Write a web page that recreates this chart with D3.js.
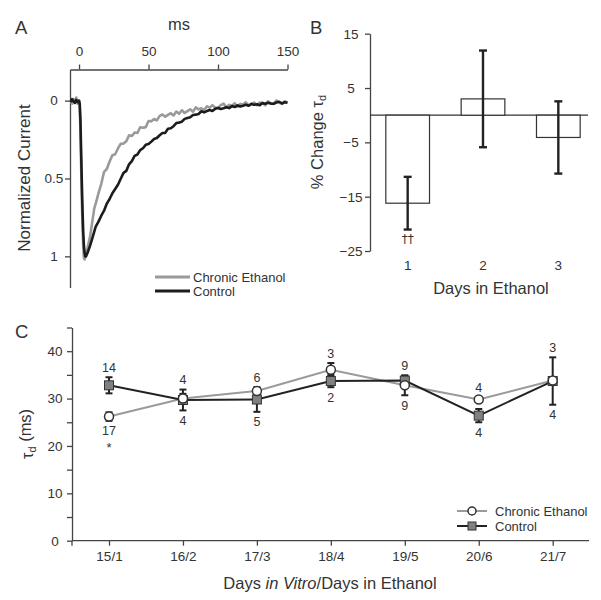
<!DOCTYPE html>
<html><head><meta charset="utf-8">
<script src="https://cdn.jsdelivr.net/npm/d3@7"></script>
<style>
body{margin:0;background:#fff}
svg{display:block}
text{font-family:"Liberation Sans",Arial,Helvetica,sans-serif;fill:#333}
</style>
</head><body>
<svg id="chart" width="601" height="600"></svg>
<script>
// ---------- Panel A data: normalized current traces ----------
const traceTime = [-6,-5,-4,-3,-2,-1,0,0.5,1,1.5,2,2.5,3,3.5,4,4.5,5,5.5,6,7,8,9,10,11,
12,14,16,18,20,22,24,26,28,30,32,34,36,38,40,42,44,46,48,50,52,54,56,58,60,62,64,66,68,70,72,74,76,78,80,82,84,86,88,90,92,94,96,98,100,102,104,106,108,110,112,114,116,118,120,122,124,126,128,130,132,134,136,138,140,142,144,146,148,150];
const traceEthanol = [0.00,0.02,-0.01,0.01,-0.02,0.02,0.00,0.04,0.20,0.42,0.63,0.80,0.93,1.01,1.02,1.00,0.98,0.96,0.95,0.91,0.87,0.81,0.75,0.69,
0.662,0.594,0.534,0.457,0.439,0.391,0.350,0.344,0.307,0.277,0.276,0.261,0.223,0.227,0.205,0.208,0.171,0.174,0.170,0.131,0.133,0.118,0.127,0.098,0.089,0.103,0.091,0.081,0.095,0.070,0.084,0.062,0.079,0.067,0.056,0.071,0.043,0.056,0.049,0.061,0.036,0.045,0.029,0.045,0.046,0.029,0.019,0.042,0.027,0.034,0.017,0.039,0.021,0.025,0.011,0.031,0.026,0.012,0.030,0.012,0.014,0.030,0.004,0.018,0.021,-0.001,0.014,0.021,0.004,0.013];
const traceControl = [0.01,-0.01,0.005,0.015,-0.005,0.01,0.0,0.02,0.12,0.32,0.52,0.70,0.84,0.93,0.98,1.00,1.00,0.99,0.98,0.955,0.93,0.90,0.87,0.84,
0.809,0.777,0.739,0.707,0.661,0.632,0.595,0.568,0.540,0.502,0.464,0.451,0.409,0.388,0.355,0.346,0.318,0.306,0.284,0.279,0.263,0.246,0.240,0.222,0.208,0.207,0.180,0.177,0.164,0.144,0.141,0.135,0.117,0.111,0.106,0.092,0.090,0.086,0.068,0.075,0.067,0.060,0.066,0.052,0.047,0.054,0.049,0.043,0.048,0.035,0.041,0.030,0.038,0.033,0.027,0.033,0.020,0.027,0.023,0.029,0.016,0.020,0.013,0.019,0.020,0.012,0.007,0.018,0.010,0.013];
const traceTicksX = [0,50,100,150];
const traceTicksY = [0,0.5,1];
const traceTickLabelsY = ["0","0.5","1"];
const traceSeries = ["Chronic Ethanol","Control"];

// ---------- Panel B data ----------
const bDays = ["1","2","3"];
const bChange = [-16.2,3.0,-4.1];
const bSEM = [4.85,8.9,6.65];
const bMarks = ["\u2020\u2020","",""];
const bTicks = [15,5,-5,-15,-25];

// ---------- Panel C data ----------
const cDays = ["15/1","16/2","17/3","18/4","19/5","20/6","21/7"];
const cEthanolMean = [26.2,30.0,31.6,36.1,32.8,29.8,33.8];
const cEthanolSEM  = [0.9,1.0,0.6,1.4,2.1,0.5,0.5];
const cEthanolN    = [17,4,6,3,9,4,3];
const cControlMean = [32.8,29.7,29.8,33.7,33.8,26.4,33.7];
const cControlSEM  = [1.7,2.2,2.6,1.3,1.0,1.4,5.0];
const cControlN    = [14,4,5,2,9,4,4];
const cSig         = ["*","","","","","",""];
const cTicks = [0,5,10,15,20,25,30,35,40,45];
const cSeries = ["Chronic Ethanol","Control"];

const svg = d3.select("#chart");
const TICK_FS = "13.5px", TITLE_FS = "16.5px";
const axisColor = "#444";

function styleAxis(g){
  g.select(".domain").attr("stroke",axisColor).attr("stroke-width",1.3);
  g.selectAll(".tick line").attr("stroke",axisColor).attr("stroke-width",1.3);
  g.selectAll(".tick text").attr("fill","#333").style("font-size",TICK_FS)
    .style("font-family",'"Liberation Sans",Arial,sans-serif');
}

// ================= Panel A =================
const xA = d3.scaleLinear().domain([-6.5,150]).range([70,287.5]);
const yA = d3.scaleLinear().domain([-0.2,1.2]).range([69.5,287.5]);

svg.append("g").attr("transform","translate(0,69.5)")
  .call(d3.axisTop(xA).tickValues(traceTicksX).tickSize(5).tickSizeOuter(0).tickPadding(9))
  .call(styleAxis);
const gAy = svg.append("g").attr("transform","translate(70,0)")
  .call(d3.axisLeft(yA).tickValues(traceTicksY).tickFormat((d,i)=>traceTickLabelsY[i]).tickSize(5).tickSizeOuter(0))
  .call(styleAxis);
gAy.selectAll(".tick text").attr("text-anchor","middle").attr("x",-16);

svg.append("text").attr("x",179).attr("y",30).attr("text-anchor","middle").style("font-size",TITLE_FS).text("ms");
svg.append("text").attr("transform","translate(30,178) rotate(-90)").attr("text-anchor","middle").style("font-size","17px").text("Normalized Current");
svg.append("text").attr("x",15).attr("y",34).style("font-size","18.5px").text("A");

const lineA = d3.line().x((d,i)=>xA(traceTime[i])).y(d=>yA(d));
svg.append("path").datum(traceEthanol).attr("d",lineA).attr("fill","none")
  .attr("stroke","#9a9a9a").attr("stroke-width",2.6).attr("stroke-linejoin","round");
svg.append("path").datum(traceControl).attr("d",lineA).attr("fill","none")
  .attr("stroke","#1c1c1c").attr("stroke-width",2.6).attr("stroke-linejoin","round");

const legA = svg.append("g");
traceSeries.forEach((s,i)=>{
  const y = 277 + i*14;
  legA.append("line").attr("x1",155).attr("x2",190).attr("y1",y).attr("y2",y)
    .attr("stroke", i===0 ? "#9a9a9a" : "#1c1c1c").attr("stroke-width",3);
  legA.append("text").attr("x",193).attr("y",y+4.5).style("font-size","13px").text(s);
});

// ================= Panel B =================
const yB = d3.scaleLinear().domain([-25,15]).range([251,33.7]);
const xB = d3.scaleBand().domain(bDays).range([370,596]).paddingInner(0.42).paddingOuter(0.21);

const gBy = svg.append("g").attr("transform","translate(370,0)")
  .call(d3.axisLeft(yB).tickValues(bTicks).tickSize(5).tickSizeOuter(0))
  .call(styleAxis);
gBy.selectAll(".tick text").attr("text-anchor","middle").attr("x",-19);

svg.append("line").attr("x1",370).attr("x2",588).attr("y1",yB(0)).attr("y2",yB(0))
  .attr("stroke","#333").attr("stroke-width",1.3);

svg.selectAll(".barB").data(bChange).enter().append("rect").attr("class","barB")
  .attr("x",(d,i)=>xB(bDays[i])).attr("width",xB.bandwidth())
  .attr("y",d=>Math.min(yB(d),yB(0))).attr("height",d=>Math.abs(yB(d)-yB(0)))
  .attr("fill","#fff").attr("stroke","#333").attr("stroke-width",1.2);

bChange.forEach((d,i)=>{
  const cx = xB(bDays[i]) + xB.bandwidth()/2;
  const y1 = yB(d+bSEM[i]), y2 = yB(d-bSEM[i]);
  svg.append("line").attr("x1",cx).attr("x2",cx).attr("y1",y1).attr("y2",y2).attr("stroke","#222").attr("stroke-width",2.4);
  [y1,y2].forEach(y=>svg.append("line").attr("x1",cx-4).attr("x2",cx+4).attr("y1",y).attr("y2",y).attr("stroke","#222").attr("stroke-width",2.4));
  svg.append("text").attr("x",cx).attr("y",270).attr("text-anchor","middle").style("font-size",TICK_FS).text(bDays[i]);
  if (bMarks[i]) svg.append("text").attr("x",cx).attr("y",y2+13).attr("text-anchor","middle")
    .style("font-size","12px").style("font-family",'"DejaVu Sans",sans-serif').style("fill","#333").text(bMarks[i]);
});

svg.append("text").attr("x",491).attr("y",294).attr("text-anchor","middle").style("font-size",TITLE_FS).text("Days in Ethanol");
const bTitle = svg.append("text").attr("transform","translate(323,142) rotate(-90)").attr("text-anchor","middle").style("font-size",TITLE_FS);
bTitle.append("tspan").text("% Change \u03c4");
bTitle.append("tspan").attr("dy","0.3em").style("font-size","11px").text("d");
svg.append("text").attr("x",310).attr("y",34).style("font-size","18.5px").text("B");

// ================= Panel C =================
const yC = d3.scaleLinear().domain([0,45]).range([540.7,327.5]);
const xC = d3.scalePoint().domain(cDays).range([109,552.7]);

const gCy = svg.append("g").attr("transform","translate(72,0)")
  .call(d3.axisLeft(yC).tickValues(cTicks).tickFormat(d=>d%10===0?d:"").tickSize(5).tickSizeOuter(0))
  .call(styleAxis);
gCy.selectAll(".tick text").attr("text-anchor","middle").attr("x",-17);
svg.append("line").attr("x1",72).attr("x2",72).attr("y1",yC(0)).attr("y2",yC(0)+5).attr("stroke",axisColor).attr("stroke-width",1.3);

const gCx = svg.append("g").attr("transform",`translate(0,${yC(0)})`)
  .call(d3.axisBottom(xC).tickSize(5).tickSizeOuter(0).tickPadding(6))
  .call(styleAxis);
gCx.select(".domain").remove();
svg.append("line").attr("x1",72).attr("x2",589).attr("y1",yC(0)).attr("y2",yC(0)).attr("stroke",axisColor).attr("stroke-width",1.3);

const xTitle = svg.append("text").attr("x",330).attr("y",589).attr("text-anchor","middle").style("font-size",TITLE_FS);
xTitle.append("tspan").text("Days ");
xTitle.append("tspan").style("font-style","italic").text("in Vitro");
xTitle.append("tspan").text("/Days in Ethanol");

const cTitle = svg.append("text").attr("transform","translate(33,434) rotate(-90)").attr("text-anchor","middle").style("font-size",TITLE_FS);
cTitle.append("tspan").text("\u03c4");
cTitle.append("tspan").attr("dy","0.3em").style("font-size","11px").text("d");
cTitle.append("tspan").attr("dy","-0.3em").text(" (ms)");
svg.append("text").attr("x",15).attr("y",338).style("font-size","18.5px").text("C");

const lineC = d3.line().x((d,i)=>xC(cDays[i])).y(d=>yC(d));
svg.append("path").datum(cEthanolMean).attr("d",lineC).attr("fill","none").attr("stroke","#9a9a9a").attr("stroke-width",2);
svg.append("path").datum(cControlMean).attr("d",lineC).attr("fill","none").attr("stroke","#222").attr("stroke-width",2);

function errBar(cx, m, s){
  const y1 = yC(m+s), y2 = yC(m-s);
  svg.append("line").attr("x1",cx).attr("x2",cx).attr("y1",y1).attr("y2",y2).attr("stroke","#222").attr("stroke-width",2);
  [y1,y2].forEach(y=>svg.append("line").attr("x1",cx-3.5).attr("x2",cx+3.5).attr("y1",y).attr("y2",y).attr("stroke","#222").attr("stroke-width",2));
}
cDays.forEach((d,i)=>{
  const cx = xC(d);
  errBar(cx, cControlMean[i], cControlSEM[i]);
  errBar(cx, cEthanolMean[i], cEthanolSEM[i]);
});
cDays.forEach((d,i)=>{
  svg.append("rect").attr("x",xC(d)-4.5).attr("y",yC(cControlMean[i])-4.5).attr("width",9).attr("height",9)
    .attr("fill","#808080").attr("stroke","#333").attr("stroke-width",1);
});
cDays.forEach((d,i)=>{
  svg.append("circle").attr("cx",xC(d)).attr("cy",yC(cEthanolMean[i])).attr("r",4.5)
    .attr("fill","#fff").attr("stroke","#333").attr("stroke-width",1.5);
});
cDays.forEach((d,i)=>{
  const cx = xC(d);
  const top = Math.min(yC(cEthanolMean[i]+cEthanolSEM[i]), yC(cControlMean[i]+cControlSEM[i]));
  const bot = Math.max(yC(cEthanolMean[i]-cEthanolSEM[i]), yC(cControlMean[i]-cControlSEM[i]));
  const ethAbove = cEthanolMean[i] >= cControlMean[i];
  const above = ethAbove ? cEthanolN[i] : cControlN[i];
  const below = ethAbove ? cControlN[i] : cEthanolN[i];
  svg.append("text").attr("x",cx).attr("y",top-10).attr("dy","0.36em").attr("text-anchor","middle").style("font-size","12.5px").text(above);
  svg.append("text").attr("x",cx).attr("y",bot+10).attr("dy","0.36em").attr("text-anchor","middle").style("font-size","12.5px").text(below);
  if (cSig[i]) svg.append("text").attr("x",cx).attr("y",bot+31).attr("text-anchor","middle").style("font-size","13px").text(cSig[i]);
});

cSeries.forEach((s,i)=>{
  const y = 511 + i*15;
  svg.append("line").attr("x1",457).attr("x2",487).attr("y1",y).attr("y2",y)
    .attr("stroke", i===0 ? "#9a9a9a" : "#222").attr("stroke-width",2);
  if (i===0) svg.append("circle").attr("cx",472).attr("cy",y).attr("r",4).attr("fill","#fff").attr("stroke","#333").attr("stroke-width",1.5);
  else svg.append("rect").attr("x",468).attr("y",y-4).attr("width",8).attr("height",8).attr("fill","#808080").attr("stroke","#333").attr("stroke-width",1);
  svg.append("text").attr("x",495).attr("y",y+4.5).style("font-size","13px").text(s);
});
</script>
</body></html>
